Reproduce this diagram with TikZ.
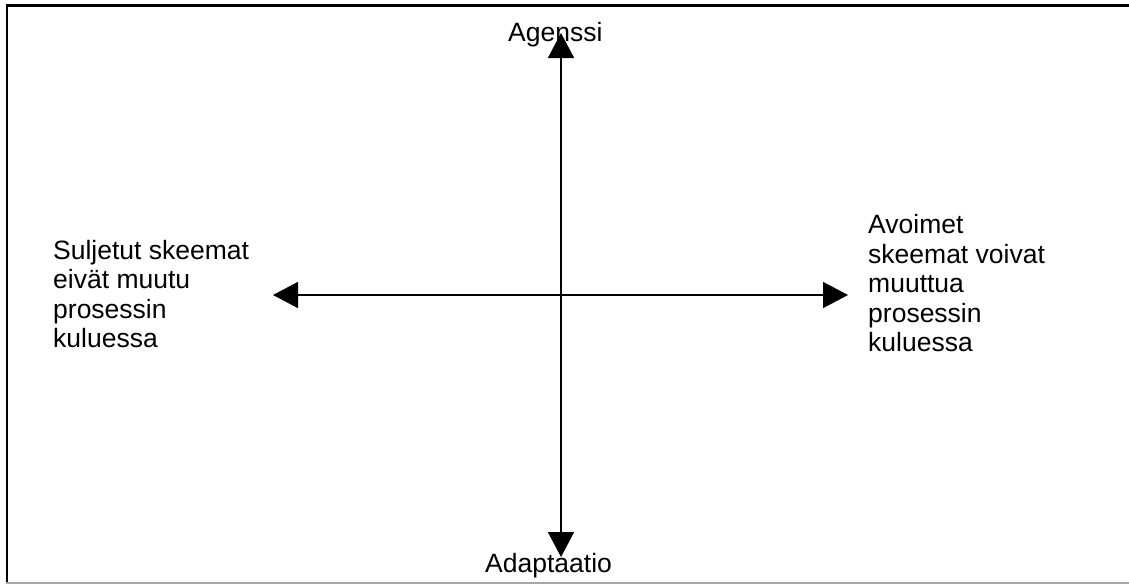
\documentclass[tikz,border=0pt]{standalone}
\usepackage{fontspec}
\setmainfont{Liberation Sans}
\usetikzlibrary{arrows.meta}
\begin{document}
\begin{tikzpicture}[x=1pt,y=-1pt,
  axis/.style={line width=1.6pt,{Triangle[length=25pt,width=26pt]}-{Triangle[length=25pt,width=26pt]}},
  lbl/.style={inner sep=0pt,align=left,font=\fontsize{26.5}{29.5}\selectfont},
  frameline/.style={line width=2.3pt,black}]
\useasboundingbox (0,0) rectangle (1129,584);
\fill[white] (0,0) rectangle (1129,584);
% frame
\draw[frameline] (6.8,5.5) -- (1129,5.5);
\draw[frameline] (7.2,4.4) -- (7.2,583);
\draw[line width=1.5pt,black!35] (6,583.2) -- (1129,583.2);
% axis end points
\coordinate (top) at (561,33);
\coordinate (bot) at (561,557);
\coordinate (lft) at (273,295);
\coordinate (rgt) at (848,295);
\draw[axis] (bot) -- (top);
\draw[axis] (lft) -- (rgt);
% labels
\node[lbl,anchor=base west] (ag) at (508,41) {Agenssi};
\node[lbl,anchor=base west] (ad) at (485,572) {Adaptaatio};
\node[lbl,anchor=north west] (left) at (53,240) {Suljetut skeemat\\eivät muutu\\prosessin\\kuluessa};
\node[lbl,anchor=north west] (right) at (868,214.5) {Avoimet\\skeemat voivat\\muuttua\\prosessin\\kuluessa};
\end{tikzpicture}
\end{document}
